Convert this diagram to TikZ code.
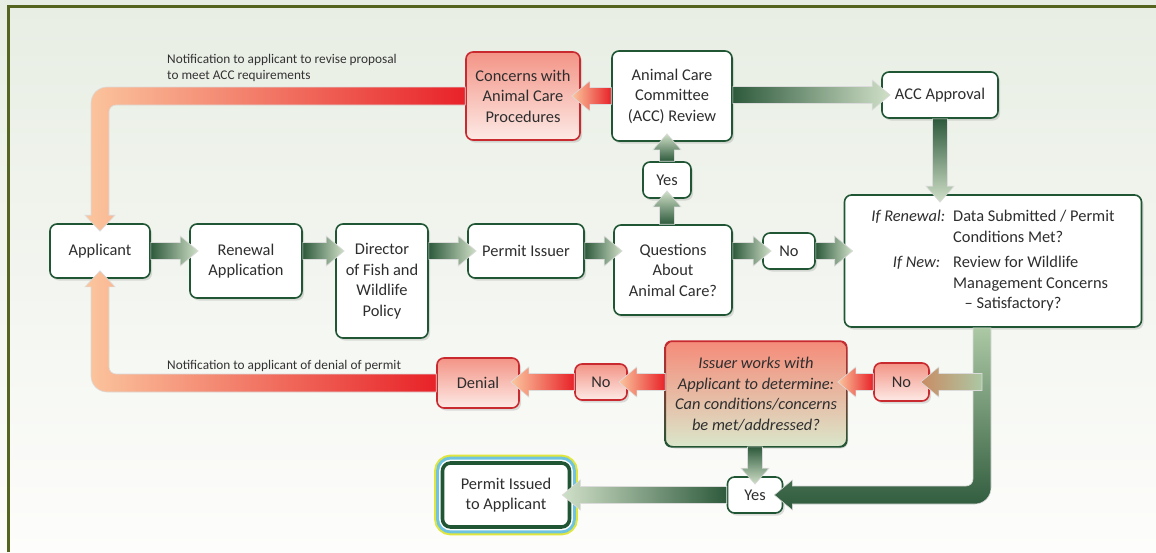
\documentclass[tikz,border=0pt]{standalone}
\usepackage{fontspec}
\setmainfont{Carlito}
\usetikzlibrary{calc, positioning, shadows, backgrounds}

\definecolor{boxgreen}{RGB}{32, 86, 52}
\definecolor{darkgreen}{RGB}{46, 90, 60}
\definecolor{lightgreen}{RGB}{208, 224, 200}
\definecolor{palegreen}{RGB}{172, 200, 164}
\definecolor{alertred}{RGB}{232, 34, 40}
\definecolor{alertline}{RGB}{200, 42, 48}
\definecolor{peach}{RGB}{251, 198, 158}
\definecolor{notice}{RGB}{244, 150, 108}
\definecolor{salmon}{RGB}{243, 148, 134}
\definecolor{pinkwash}{RGB}{253, 234, 230}
\definecolor{worktop}{RGB}{245, 140, 122}
\definecolor{workbottom}{RGB}{218, 230, 202}
\definecolor{rust}{RGB}{200, 140, 100}
\definecolor{frameolive}{RGB}{85, 100, 30}
\definecolor{bgtop}{RGB}{232, 238, 228}
\definecolor{bgbottom}{RGB}{253, 253, 251}
\definecolor{ringyellow}{RGB}{224, 230, 62}
\definecolor{ringblue}{RGB}{110, 196, 224}

\newcommand{\boxfont}{\fontsize{16.4}{20.5}\selectfont}
\newcommand{\notefont}{\fontsize{13.3}{16.5}\selectfont}

% fat horizontal arrow: style, from, to, head length (+ right, - left)
\newcommand{\harrow}[4]{%
  \shade[#1] let \p1=(#2), \p2=(#3) in
    (\x1,{\y1+8.5pt}) -- ({\x2-0.5*(#4pt)},{\y1+8.5pt}) -- ({\x2-0.5*(#4pt)},{\y1+15pt})
    -- ({\x2+0.5*(#4pt)},\y1) -- ({\x2-0.5*(#4pt)},{\y1-15pt})
    -- ({\x2-0.5*(#4pt)},{\y1-8.5pt}) -- (\x1,{\y1-8.5pt}) -- cycle;}
% fat vertical arrow: style, from, to, head length (+ up, - down)
\newcommand{\varrow}[4]{%
  \shade[#1] let \p1=(#2), \p2=(#3) in
    ({\x1+7.5pt},\y1) -- ({\x1+7.5pt},{\y2-0.5*(#4pt)}) -- ({\x1+14pt},{\y2-0.5*(#4pt)})
    -- (\x1,{\y2+0.5*(#4pt)}) -- ({\x1-14pt},{\y2-0.5*(#4pt)})
    -- ({\x1-7.5pt},{\y2-0.5*(#4pt)}) -- ({\x1-7.5pt},\y1) -- cycle;}

\begin{document}
\begin{tikzpicture}[x=1pt, y=-1pt,
  stepbox/.style={draw=boxgreen, line width=1.6pt, rounded corners=7pt, fill=white,
    align=center, font=\boxfont, text=black!82, inner sep=3pt,
    drop shadow={opacity=0.25, shadow xshift=2pt, shadow yshift=-2.5pt}},
  alertbox/.style={stepbox, draw=alertline, top color=salmon, bottom color=pinkwash},
  workbox/.style={stepbox, draw=none, top color=worktop, bottom color=workbottom, font=\boxfont\itshape},
  issuedbox/.style={stepbox, line width=3.6pt, rounded corners=8pt,
    preaction={draw=ringyellow, line width=16.6pt}, preaction={draw=ringblue, line width=12.6pt},
    preaction={draw=white, line width=6.6pt}},
  edge/.style={draw=white!72!gray, line width=0.6pt},
  gright/.style={edge, left color=darkgreen, right color=lightgreen},
  gleft/.style={edge, right color=darkgreen, left color=lightgreen},
  gup/.style={edge, bottom color=darkgreen, top color=lightgreen},
  gdown/.style={edge, top color=darkgreen, bottom color=lightgreen},
  rleft/.style={edge, right color=alertred, left color=peach},
  note/.style={font=\notefont, text=black!80, align=left, inner sep=1pt}]

  \useasboundingbox (0,0) rectangle (1156,552);
  \begin{scope}[on background layer]
    \shade[top color=bgtop, bottom color=bgbottom] (0,0) rectangle (1156,552);
  \end{scope}
  \draw[frameolive, line width=2.5pt] (8.5,552) -- (8.5,6.5) -- (1156,6.5);

  % main row
  \node[stepbox, minimum width=100, minimum height=54] (app) at (100,251) {Applicant};
  \node[stepbox, minimum width=112, minimum height=74] (ren) at (246,261) {Renewal\\Application};
  \node[stepbox, minimum width=92, minimum height=114] (dir) at (382,281) {Director\\of Fish and\\Wildlife\\Policy};
  \node[stepbox, minimum width=116, minimum height=54] (iss) at (526,251) {Permit Issuer};
  \node[stepbox, minimum width=118, minimum height=90] (que) at (673,270) {Questions\\About\\Animal Care?};
  \node[stepbox, minimum width=52, minimum height=36] (no1) at (789,251) {No};
  \node[stepbox, minimum width=297, minimum height=132] (rev) at (993,261) {%
    \begin{tabular}{@{}r@{\hspace{8pt}}l@{}}
      \textit{If Renewal:} & Data Submitted / Permit\\
      & Conditions Met?\\[5pt]
      \textit{If New:}\hspace{5pt} & Review for Wildlife\\
      & Management Concerns\\
      & \hspace{0.7em}-- Satisfactory?
    \end{tabular}};

  % upper branch
  \node[stepbox, minimum width=48, minimum height=36] (yes1) at (667,180) {Yes};
  \node[stepbox, minimum width=120, minimum height=90] (acc) at (672,96) {Animal Care\\Committee\\(ACC) Review};
  \node[alertbox, minimum width=114, minimum height=88] (con) at (523,96) {Concerns with\\Animal Care\\Procedures};
  \node[stepbox, minimum width=116, minimum height=46] (apv) at (940,95) {ACC Approval};

  % lower branch
  \node[workbox, minimum width=180, minimum height=104] (work) at (756,394)
    {Issuer works with\\Applicant to determine:\\Can conditions/concerns\\be met/addressed?};
  \shade[top color=alertline, bottom color=boxgreen, even odd rule, rounded corners=7pt]
    ($(work.north west)+(-0.8,-0.8)$) rectangle ($(work.south east)+(0.8,0.8)$)
    ($(work.north west)+(0.8,0.8)$) rectangle ($(work.south east)+(-0.8,-0.8)$);
  \node[alertbox, minimum width=55, minimum height=38] (no2) at (901.5,382) {No};
  \node[alertbox, minimum width=52, minimum height=36] (no3) at (601,382) {No};
  \node[alertbox, minimum width=82, minimum height=50] (den) at (478,383) {Denial};
  \node[stepbox, minimum width=55, minimum height=36] (yes2) at (755,495) {Yes};
  \node[issuedbox, minimum width=127, minimum height=64] (pia) at (506,495) {Permit Issued\\to Applicant};

  % notes on the return paths
  \node[note, anchor=south west] (revnote) at (166,83) {Notification to applicant to revise proposal\\to meet ACC requirements};
  \node[note, anchor=south west] (dennote) at (166,373) {Notification to applicant of denial of permit};

  % flow arrows
  \foreach \src/\dst in {app/ren, ren/dir, dir/iss, iss/que, que/no1, no1/rev}
    \harrow{gright}{\src.east |- app.east}{\dst.west}{18};
  \varrow{gup}{yes1 |- que.north}{yes1.south}{16};
  \varrow{gup}{yes1.north}{acc.south}{16};
  \harrow{gright}{acc.east |- apv.west}{apv.west}{18};
  \harrow{rleft}{acc.west |- con.east}{con.east}{-18};
  \varrow{gdown}{apv.south}{rev.north}{-16};
  \harrow{rleft}{no2.west}{work.east}{-18};
  \harrow{rleft}{work.west |- no3.east}{no3.east}{-18};
  \harrow{rleft}{no3.west}{den.east}{-18};
  \varrow{gdown}{yes2 |- work.south}{yes2.north}{-16};
  \harrow{gleft}{yes2.west}{pia.east}{-18};

  % revise: back to applicant
  \shade[edge, left color=peach, middle color=notice, right color=alertred]
    let \p1=(con.west), \p2=(app.north) in
    (\x1,\y1+9pt) -- (\x2+7pt,\y1+9pt) arc[start angle=90, end angle=180, radius=16pt]
    -- (\x2-9pt,\y2+8pt) -- (\x2-15pt,\y2+8pt) -- (\x2,\y2-8pt) -- (\x2+15pt,\y2+8pt)
    -- (\x2+9pt,\y2+8pt) -- (\x2+9pt,\y1-16pt) arc[start angle=180, end angle=90, radius=7pt]
    -- (\x1,\y1-9pt) -- cycle;
  % denial: back to applicant
  \shade[edge, left color=peach, middle color=notice, right color=alertred]
    let \p1=(den.west), \p2=(app.south) in
    (\x1,\y1-9pt) -- (\x2+7pt,\y1-9pt) arc[start angle=270, end angle=180, radius=16pt]
    -- (\x2-9pt,\y2-8pt) -- (\x2-15pt,\y2-8pt) -- (\x2,\y2+8pt) -- (\x2+15pt,\y2-8pt)
    -- (\x2+9pt,\y2-8pt) -- (\x2+9pt,\y1+16pt) arc[start angle=180, end angle=270, radius=7pt]
    -- (\x1,\y1+9pt) -- cycle;
  % review outcome: down to yes, branch to no
  \coordinate (drop) at ($(rev.south)+(-11,0)$);
  \shade[edge, top color=palegreen, bottom color=darkgreen]
    let \p1=(drop), \p2=(yes2.east) in
    (\x1-9pt,\y1) -- (\x1+9pt,\y1) -- (\x1+9pt,\y2+7pt) arc[start angle=0, end angle=-90, radius=16pt]
    -- (\x2+9pt,\y2-9pt) -- (\x2+9pt,\y2-15pt) -- (\x2-9pt,\y2) -- (\x2+9pt,\y2+15pt)
    -- (\x2+9pt,\y2+9pt) -- (\x1-16pt,\y2+9pt) arc[start angle=270, end angle=360, radius=7pt]
    -- cycle;
  \harrow{edge, left color=rust, right color=palegreen}{drop |- no2.east}{no2.east}{-18};
\end{tikzpicture}
\end{document}
